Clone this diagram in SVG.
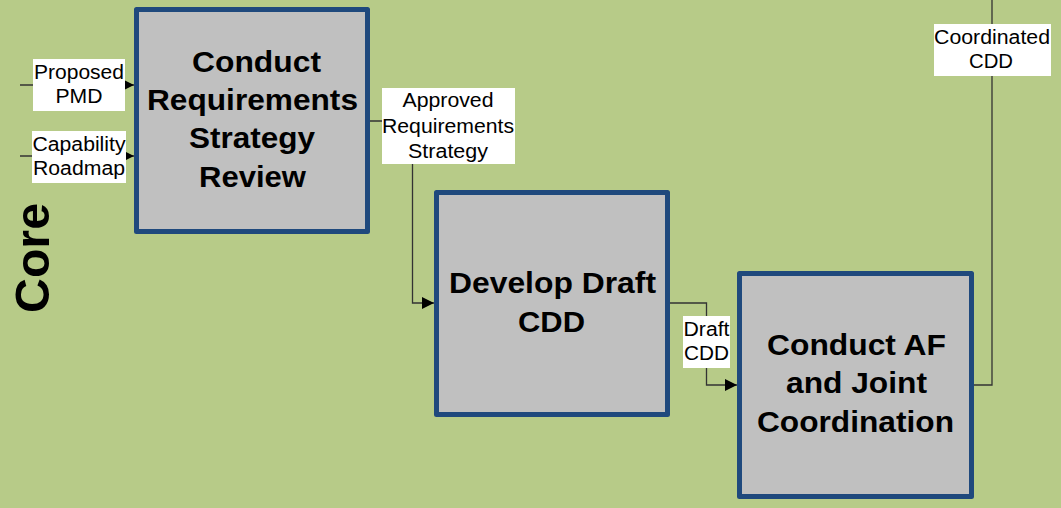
<svg xmlns="http://www.w3.org/2000/svg" width="1061" height="508" viewBox="0 0 1061 508">
<defs>
<style>
.box{fill:#c0c0c0;stroke:#1f497d;stroke-width:5;stroke-linejoin:round}
.title{font-family:"Liberation Sans",Arial,sans-serif;font-weight:bold;font-size:29px;text-anchor:middle;fill:#000}
.lbl{font-family:"Liberation Sans",Arial,sans-serif;font-size:20px;text-anchor:middle;fill:#000}
.lblbg{fill:#fff}
.conn{fill:none;stroke:#333;stroke-width:1.3}
</style>
<marker id="arr" viewBox="0 0 12 12" refX="12" refY="6" markerWidth="12" markerHeight="12" markerUnits="userSpaceOnUse" orient="auto">
<path d="M0,0 L12,6 L0,12 Z" fill="#000"/>
</marker>
</defs>
<rect x="0" y="0" width="1061" height="508" fill="#b7cb88"/>
<text transform="translate(49,258) rotate(-90)" font-family="Liberation Sans,Arial,sans-serif" font-weight="bold" font-size="48" text-anchor="middle" textLength="110" lengthAdjust="spacingAndGlyphs">Core</text>

<g id="connectors">
<path class="conn" d="M20,85 H134" marker-end="url(#arr)"/>
<path class="conn" d="M20,156 H134" marker-end="url(#arr)"/>
<path class="conn" d="M370,121 H412.5 V303 H434" marker-end="url(#arr)"/>
<path class="conn" d="M670,303 H706.5 V385 H737" marker-end="url(#arr)"/>
<path class="conn" d="M974,385 H992 V0"/>
</g>

<g id="label-proposed-pmd">
<rect class="lblbg" x="33" y="59" width="92" height="52"/>
<text class="lbl" x="79" y="79" textLength="90" lengthAdjust="spacingAndGlyphs">Proposed</text>
<text class="lbl" x="79" y="103" textLength="47" lengthAdjust="spacingAndGlyphs">PMD</text>
</g>
<g id="label-capability-roadmap">
<rect class="lblbg" x="32" y="131" width="94" height="52"/>
<text class="lbl" x="79" y="151" textLength="93" lengthAdjust="spacingAndGlyphs">Capability</text>
<text class="lbl" x="79" y="175" textLength="92" lengthAdjust="spacingAndGlyphs">Roadmap</text>
</g>
<g id="label-approved">
<rect class="lblbg" x="382" y="88" width="133" height="76"/>
<text class="lbl" x="448" y="107" textLength="91" lengthAdjust="spacingAndGlyphs">Approved</text>
<text class="lbl" x="448" y="133" textLength="132" lengthAdjust="spacingAndGlyphs">Requirements</text>
<text class="lbl" x="448" y="158" textLength="80" lengthAdjust="spacingAndGlyphs">Strategy</text>
</g>
<g id="label-draft-cdd">
<rect class="lblbg" x="683" y="316" width="47" height="52"/>
<text class="lbl" x="706.5" y="336" textLength="46" lengthAdjust="spacingAndGlyphs">Draft</text>
<text class="lbl" x="706.5" y="360" textLength="45" lengthAdjust="spacingAndGlyphs">CDD</text>
</g>
<g id="label-coordinated-cdd">
<rect class="lblbg" x="934" y="24" width="117" height="52"/>
<text class="lbl" x="992" y="44" textLength="116" lengthAdjust="spacingAndGlyphs">Coordinated</text>
<text class="lbl" x="991" y="68" textLength="44" lengthAdjust="spacingAndGlyphs">CDD</text>
</g>

<g id="node-conduct-review">
<rect class="box" x="136.5" y="9.5" width="231" height="222"/>
<text class="title" x="256.5" y="72" textLength="129" lengthAdjust="spacingAndGlyphs">Conduct</text>
<text class="title" x="252.5" y="110" textLength="211" lengthAdjust="spacingAndGlyphs">Requirements</text>
<text class="title" x="252" y="148" textLength="126" lengthAdjust="spacingAndGlyphs">Strategy</text>
<text class="title" x="252.5" y="187" textLength="107" lengthAdjust="spacingAndGlyphs">Review</text>
</g>
<g id="node-develop-draft">
<rect class="box" x="436.5" y="192.5" width="231" height="222"/>
<text class="title" x="552.5" y="293" textLength="207" lengthAdjust="spacingAndGlyphs">Develop Draft</text>
<text class="title" x="551.5" y="332" textLength="67" lengthAdjust="spacingAndGlyphs">CDD</text>
</g>
<g id="node-conduct-af">
<rect class="box" x="739.5" y="273.5" width="232" height="223"/>
<text class="title" x="856.5" y="355" textLength="179" lengthAdjust="spacingAndGlyphs">Conduct AF</text>
<text class="title" x="856.5" y="393" textLength="141" lengthAdjust="spacingAndGlyphs">and Joint</text>
<text class="title" x="855.5" y="432" textLength="197" lengthAdjust="spacingAndGlyphs">Coordination</text>
</g>
</svg>
